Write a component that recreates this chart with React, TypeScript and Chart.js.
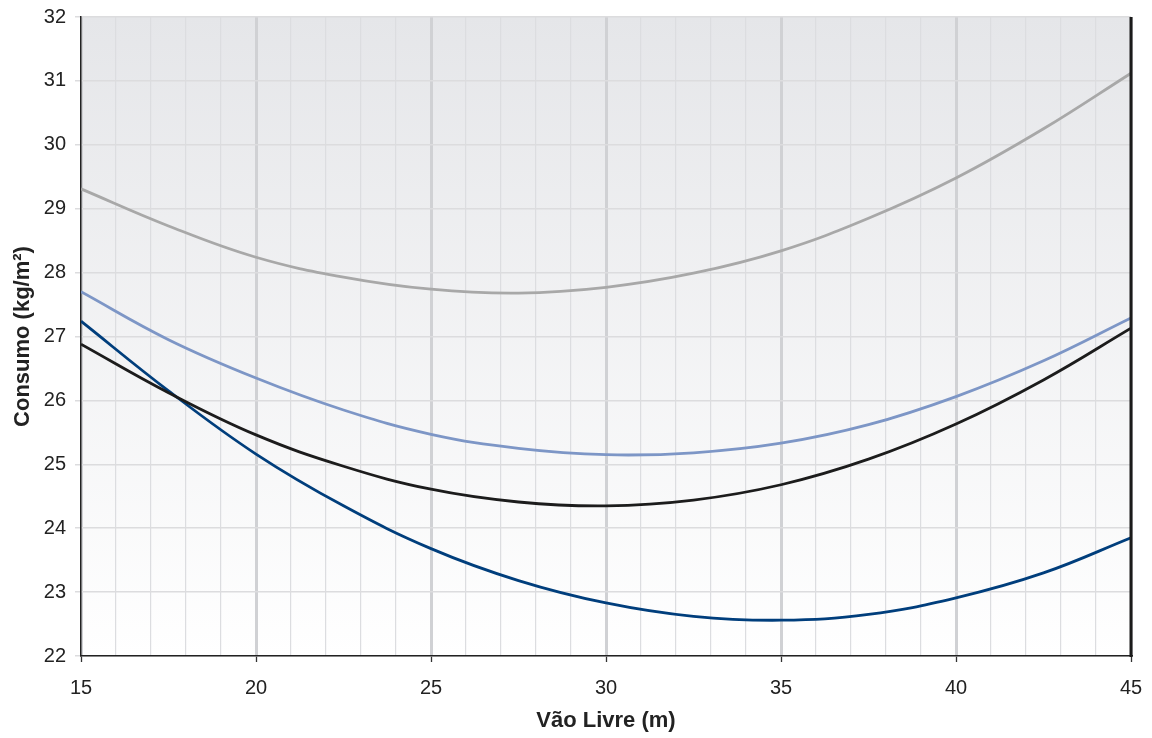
import React, { useEffect, useRef } from "react";
import { Chart, registerables } from "chart.js";

Chart.register(...registerables);

const spans = [15, 17.5, 20, 22.5, 25, 27.5, 30, 32.5, 35, 37.5, 40, 42.5, 45];
const grayValues = [29.31, 28.73, 28.24, 27.93, 27.74, 27.68, 27.77, 27.99, 28.34, 28.85, 29.48, 30.25, 31.12];
const lightBlueValues = [27.70, 26.95, 26.35, 25.85, 25.47, 25.25, 25.15, 25.18, 25.33, 25.62, 26.06, 26.62, 27.29];
const blackValues = [26.88, 26.12, 25.46, 24.97, 24.61, 24.41, 24.35, 24.44, 24.68, 25.08, 25.63, 26.32, 27.13];
const darkBlueValues = [27.24, 26.15, 25.16, 24.35, 23.68, 23.18, 22.83, 22.62, 22.56, 22.65, 22.91, 23.30, 23.85];

const xMin = 15;
const xMax = 45;
const yMin = 22;
const yMax = 32;
const xTitle = "Vão Livre (m)";
const yTitle = "Consumo (kg/m²)";

const FONT = "'Liberation Sans', Arial, sans-serif";

const bgPlugin = {
  id: "bgPlugin",
  beforeDraw(chart: any) {
    const { ctx, chartArea } = chart;
    if (!chartArea) return;
    const g = ctx.createLinearGradient(0, chartArea.top, 0, chartArea.bottom);
    g.addColorStop(0, "#e5e6e9");
    g.addColorStop(1, "#ffffff");
    ctx.save();
    ctx.fillStyle = g;
    ctx.fillRect(chartArea.left, chartArea.top, chartArea.right - chartArea.left, chartArea.bottom - chartArea.top);
    ctx.restore();
  },
  afterDraw(chart: any) {
    const { ctx, chartArea } = chart;
    ctx.save();
    ctx.strokeStyle = "#1a1a1a";
    ctx.lineWidth = 3;
    ctx.beginPath();
    ctx.moveTo(chartArea.right, chartArea.top);
    ctx.lineTo(chartArea.right, chartArea.bottom + 1);
    ctx.stroke();
    ctx.restore();
  },
};

function toPoints(vals: number[]) {
  return spans.map((x, i) => ({ x, y: vals[i] }));
}

export default function App() {
  const ref = useRef<HTMLCanvasElement>(null);
  useEffect(() => {
    if (!ref.current) return;
    const mk = (label: string, vals: number[], color: string) => ({
      label,
      data: toPoints(vals),
      borderColor: color,
      backgroundColor: color,
      borderWidth: 2.8,
      pointRadius: 0,
      tension: 0.4,
      fill: false,
    });
    const chart = new Chart(ref.current, {
      type: "line",
      data: {
        datasets: [
          mk("A", grayValues, "#a8a8a8"),
          mk("B", lightBlueValues, "#7d96c6"),
          mk("C", blackValues, "#1c1c1c"),
          mk("D", darkBlueValues, "#003e7c"),
        ],
      },
      plugins: [bgPlugin],
      options: {
        animation: false,
        responsive: true,
        maintainAspectRatio: false,
        layout: { padding: { top: 17, right: 21, left: 0, bottom: 0 } },
        plugins: { legend: { display: false }, tooltip: { enabled: false } },
        scales: {
          x: {
            type: "linear",
            min: xMin,
            max: xMax,
            afterFit(scale: any) {
              scale.height = 82;
              scale.paddingLeft = 0;
              scale.paddingRight = 0;
            },
            ticks: {
              stepSize: 1,
              autoSkip: false,
              maxRotation: 0,
              color: "#222",
              font: { family: FONT, size: 20 },
              padding: 14,
              callback: (v: any) => (Number(v) % 5 === 0 ? String(v) : ""),
            },
            grid: {
              color: (c: any) => (c.tick && c.tick.value % 5 === 0 ? "#d0d1d4" : "#dcdde0"),
              lineWidth: (c: any) => (c.tick && c.tick.value % 5 === 0 ? 3 : 1.2),
              tickColor: (c: any) => (c.tick && c.tick.value % 5 === 0 ? "#333" : "rgba(0,0,0,0)"),
              tickWidth: 1.3,
              tickLength: 6,
            },
            border: { color: "#222", width: 1.5 },
            title: {
              display: true,
              text: xTitle,
              color: "#222",
              font: { family: FONT, size: 22, weight: "bold" },
              padding: { top: 0, bottom: 4 },
            },
          },
          y: {
            type: "linear",
            min: yMin,
            max: yMax,
            afterFit(scale: any) {
              scale.width = 81;
              scale.paddingTop = 0;
              scale.paddingBottom = 0;
            },
            ticks: {
              stepSize: 1,
              color: "#222",
              font: { family: FONT, size: 20 },
              padding: 9,
            },
            grid: {
              color: "#dcdcde",
              lineWidth: 1.5,
              tickLength: 6,
            },
            border: { color: "#222", width: 1.5 },
            title: {
              display: true,
              text: yTitle,
              color: "#222",
              font: { family: FONT, size: 22, weight: "bold" },
              padding: { top: 10, bottom: 0 },
            },
          },
        },
      },
    });
    return () => chart.destroy();
  }, []);
  return (
    <div style={{ position: "fixed", left: 0, top: 0, width: 1152, height: 738, background: "#fff" }}>
      <canvas ref={ref} />
    </div>
  );
}
